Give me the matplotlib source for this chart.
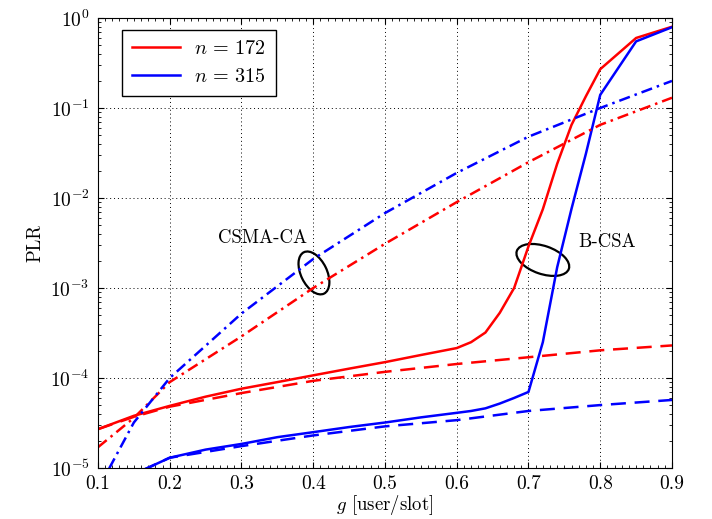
import numpy as np
import matplotlib
matplotlib.use('Agg')
import matplotlib.pyplot as plt
from matplotlib.patches import Ellipse
import matplotlib.transforms as mtransforms

plt.rcParams['font.family'] = 'cmr10'
plt.rcParams['mathtext.fontset'] = 'cm'
plt.rcParams['axes.formatter.use_mathtext'] = True
plt.rcParams['font.size'] = 14

# B-CSA simulation
g_sim = [0.1, 0.15, 0.2, 0.25, 0.3, 0.35, 0.4, 0.45, 0.5, 0.55, 0.6, 0.62, 0.64,
         0.66, 0.68, 0.7, 0.72, 0.74, 0.76, 0.78, 0.8, 0.85, 0.9]
plr_bcsa_172 = [2.7e-5, 3.8e-5, 4.9e-5, 6.2e-5, 7.6e-5, 9.0e-5, 1.07e-4, 1.27e-4, 1.5e-4,
                1.8e-4, 2.15e-4, 2.5e-4, 3.2e-4, 5.3e-4, 1.0e-3, 2.9e-3, 7.5e-3, 0.024,
                0.065, 0.135, 0.27, 0.6, 0.8]
plr_bcsa_315 = [6e-6, 8.5e-6, 1.3e-5, 1.6e-5, 1.85e-5, 2.2e-5, 2.5e-5, 2.85e-5, 3.2e-5,
                3.65e-5, 4.1e-5, 4.3e-5, 4.6e-5, 5.2e-5, 6e-5, 7e-5, 2.5e-4, 1.7e-3,
                7.6e-3, 0.031, 0.14, 0.55, 0.79]

# B-CSA analysis
g_ana = [0.1, 0.15, 0.2, 0.3, 0.4, 0.5, 0.6, 0.7, 0.8, 0.9]
ana_172 = [2.7e-5, 3.7e-5, 4.8e-5, 6.8e-5, 9.3e-5, 1.17e-4, 1.43e-4, 1.7e-4, 2.03e-4, 2.3e-4]
ana_315 = [6e-6, 8.5e-6, 1.3e-5, 1.75e-5, 2.3e-5, 2.9e-5, 3.4e-5, 4.3e-5, 5e-5, 5.7e-5]

# CSMA-CA
csma_172 = [1.7e-5, 3.6e-5, 9e-5, 2.9e-4, 1.0e-3, 3.1e-3, 9e-3, 0.025, 0.065, 0.13]
csma_315 = [5.8e-6, 3.2e-5, 1.0e-4, 5.2e-4, 2.1e-3, 6.8e-3, 0.019, 0.048, 0.1, 0.2]

fig = plt.figure(figsize=(7.12, 5.19), dpi=100)
ax = fig.add_axes([0.1376, 0.0983, 0.8062, 0.867])

lw = 1.8
ax.plot(g_sim, plr_bcsa_172, 'r-', lw=lw, label=r'$n\,=\,172$')
ax.plot(g_sim, plr_bcsa_315, 'b-', lw=lw, label=r'$n\,=\,315$')
ax.plot(g_ana, ana_172, 'r', ls=(0, (6, 3.5)), lw=lw)
ax.plot(g_ana, ana_315, 'b', ls=(0, (6, 3.5)), lw=lw)
ax.plot(g_ana, csma_172, 'r', ls=(0, (4.5, 2, 1, 2)), lw=lw)
ax.plot(g_ana, csma_315, 'b', ls=(0, (4.5, 2, 1, 2)), lw=lw)

ax.set_yscale('log')
ax.set_xlim(0.1, 0.9)
ax.set_ylim(1e-5, 1)
ax.set_xticks([0.1, 0.2, 0.3, 0.4, 0.5, 0.6, 0.7, 0.8, 0.9])
ax.set_xticklabels(['0.1', '0.2', '0.3', '0.4', '0.5', '0.6', '0.7', '0.8', '0.9'])
ax.set_xticks(np.arange(0.1, 0.9, 0.01), minor=True)
ax.tick_params(which='both', direction='in', top=True, right=True)
ax.tick_params(which='major', length=4)
ax.tick_params(which='minor', length=2)
ax.tick_params(axis='x', which='major', pad=5)
ax.tick_params(axis='y', which='major', pad=6)
ax.grid(True, which='major', color='black', ls=(0, (1, 3)), lw=0.7)

ax.set_xlabel(r'$g$ [user/slot]', labelpad=0, fontsize=13.5)
ax.set_ylabel('PLR', labelpad=4, fontsize=13.5)

leg = ax.legend(loc='upper left', bbox_to_anchor=(0.024, 0.995), fancybox=False,
                edgecolor='black', framealpha=1, handlelength=2.4, fontsize=14.5,
                borderpad=0.5, labelspacing=0.45, handletextpad=0.7)
leg.get_frame().set_linewidth(1.0)

# ellipses marking the curve groups (size in inches)
for gc, pc, w, h, ang in [(0.401, 1.47e-3, 0.46, 0.26, -64), (0.72, 2.05e-3, 0.55, 0.28, -19)]:
    tr = fig.dpi_scale_trans + mtransforms.ScaledTranslation(gc, pc, ax.transData)
    ax.add_patch(Ellipse((0, 0), w, h, angle=ang, transform=tr, fill=False,
                         ec='black', lw=1.6))

ax.text(0.33, 3.6e-3, 'CSMA-CA', ha='center', va='center', fontsize=13.5)
ax.text(0.81, 3.2e-3, 'B-CSA', ha='center', va='center', fontsize=13.5)

fig.savefig('out.png', dpi=100)
